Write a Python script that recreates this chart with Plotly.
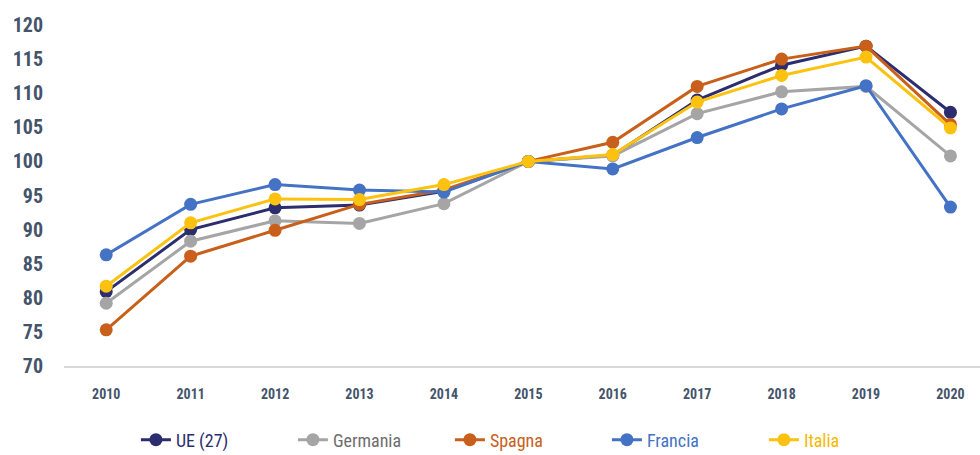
import plotly.graph_objects as go

years = ["2010", "2011", "2012", "2013", "2014", "2015", "2016", "2017", "2018", "2019", "2020"]
ue27 = [80.9, 90.0, 93.2, 93.6, 95.6, 100.0, 100.9, 109.0, 114.1, 116.9, 107.2]
germania = [79.2, 88.3, 91.3, 90.9, 93.8, 100.0, 100.8, 107.0, 110.2, 111.0, 100.8]
spagna = [75.3, 86.1, 89.9, 93.7, 95.8, 100.0, 102.8, 111.0, 115.0, 116.9, 105.4]
francia = [86.3, 93.7, 96.6, 95.8, 95.5, 100.0, 98.9, 103.5, 107.7, 111.1, 93.3]
italia = [81.7, 91.0, 94.5, 94.4, 96.6, 100.0, 101.0, 108.7, 112.6, 115.3, 104.9]
y_ticks = [70, 75, 80, 85, 90, 95, 100, 105, 110, 115, 120]

series = [
    ("UE (27)", ue27, "#2b2d6e"),
    ("Germania", germania, "#a5a5a5"),
    ("Spagna", spagna, "#c8601c"),
    ("Francia", francia, "#4472c4"),
    ("Italia", italia, "#fcc20f"),
]
legend_text_colors = {"UE (27)": "#2b2d6e", "Germania": "#6e6e6e", "Spagna": "#c8601c",
                      "Francia": "#4472c4", "Italia": "#f5b800"}

FONT = "Liberation Sans Narrow, Roboto Condensed, Arial Narrow, Roboto, sans-serif"

fig = go.Figure()
for name, vals, col in series:
    fig.add_trace(go.Scatter(
        x=years, y=vals, mode="lines+markers",
        name=f"<span style='color:{legend_text_colors[name]}'>{name}</span>",
        line=dict(color=col, width=3),
        marker=dict(color=col, size=13),
        cliponaxis=False,
    ))

fig.update_layout(
    width=980, height=455,
    margin=dict(l=64, r=0, t=25, b=89, autoexpand=False),
    plot_bgcolor="white", paper_bgcolor="white",
    font=dict(family=FONT, color="#44546a"),
    showlegend=True,
    legend=dict(orientation="h", x=0.507, xanchor="center", yref="container",
                y=15 / 455, yanchor="middle",
                font=dict(size=18, family=FONT), entrywidth=112, entrywidthmode="pixels",
                itemclick=False),
    xaxis=dict(type="category", range=[-0.5, 10.35], showgrid=False, showline=True,
               linecolor="#d9d9d9", linewidth=2, ticks="", ticklabelstandoff=14,
               automargin=False,
               tickfont=dict(size=14, family=FONT, color="#44546a", weight="bold")),
    yaxis=dict(range=[70, 120], tickvals=y_ticks, showgrid=False, zeroline=False,
               showline=False, ticks="", ticklabelstandoff=20, automargin=False,
               tickfont=dict(size=20, family=FONT, color="#44546a", weight="bold")),
)

fig.write_html(
    "out.html",
    config={"displayModeBar": False},
    post_script="document.body.style.margin='0';document.body.style.overflow='hidden';",
)
